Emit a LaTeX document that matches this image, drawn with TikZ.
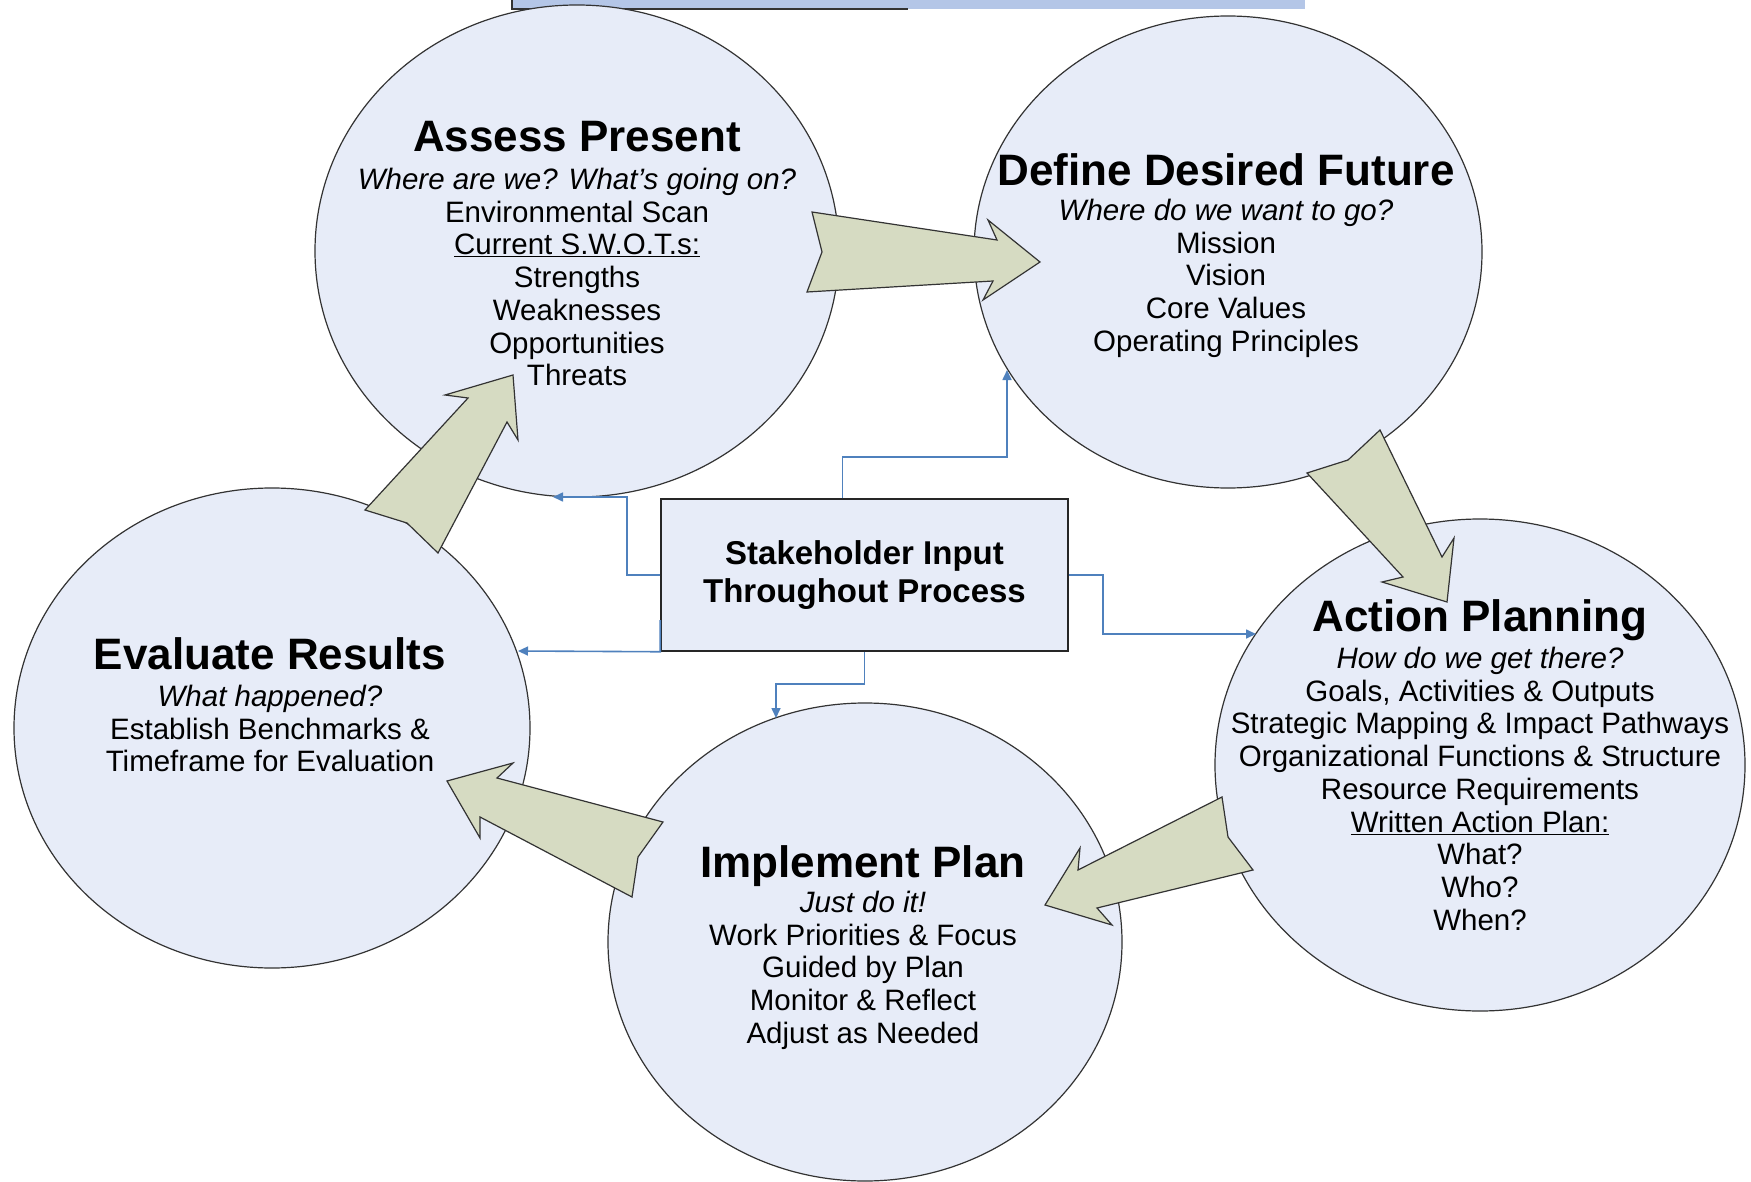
\documentclass[tikz,border=0pt]{standalone}
\usepackage{fontspec}
\setmainfont{Liberation Sans}
\usetikzlibrary{shapes.geometric,arrows.meta,calc}
\definecolor{bubblefill}{RGB}{231,236,248}
\definecolor{arrowfill}{RGB}{214,219,194}
\definecolor{linkblue}{RGB}{79,129,189}
\definecolor{barblue}{RGB}{180,198,231}
\begin{document}
\begin{tikzpicture}[x=1pt,y=-1pt,
  bubble/.style={ellipse, draw=black!80, line width=1.2pt, fill=bubblefill, inner sep=0pt},
  phasetitle/.style={font=\fontsize{44}{48}\selectfont\bfseries, anchor=base, inner sep=0pt},
  phasebody/.style={font=\fontsize{29.5}{32.7}\selectfont, align=center, anchor=north, inner sep=0pt},
  bigarrow/.style={draw=black!80, line width=1.2pt, fill=arrowfill, line join=miter},
  link/.style={draw=linkblue, line width=1.6pt, -{Triangle[length=10pt,width=9pt]}},
]
\useasboundingbox (0,0) rectangle (1751,1182);
\fill[white] (0,0) rectangle (1751,1182);

% strip of a banner along the top edge
\fill[barblue] (512,0) rectangle (1305,9);
\draw[black!80, line width=1.5pt] (512,0) -- (512,9) -- (908,9);

% the five phases
\node[bubble, minimum width=524pt, minimum height=492pt] (assess) at (577,251) {};
\node[bubble, minimum width=508pt, minimum height=472pt] (define) at (1228,252) {};
\node[bubble, minimum width=530pt, minimum height=492pt] (action) at (1480,765) {};
\node[bubble, minimum width=516pt, minimum height=480pt] (evaluate) at (272,728) {};
\node[bubble, minimum width=514pt, minimum height=478pt] (implement) at (865,942) {};

% central stakeholder box
\node[draw=black!85, line width=1.5pt, fill=bubblefill, minimum width=407pt, minimum height=152pt,
      font=\fontsize{33}{38}\selectfont\bfseries, align=center, inner sep=0pt]
      (stake) at (864.5,575) {Stakeholder Input\\Throughout Process};

% entry points of the stakeholder links on the phase borders
\coordinate (assessIn) at (553,497);
\coordinate (defineIn) at (1007,370);
\coordinate (actionIn) at (1256,634);
\coordinate (evaluateIn) at (518,651);
\coordinate (implementIn) at (776,718);

\draw[link] (stake.west) -- ++(-33,0) |- (assessIn);
\draw[link] ($(stake.north)+(-22,0)$) -- ++(0,-41) -| (defineIn);
\draw[link] (stake.east) -- ++(34,0) |- (actionIn);
\draw[link] ($(stake.west)+(0,45)$) -- (stake.south west) -- (evaluateIn);
\draw[link] (stake.south) -- ++(0,32) -| (implementIn);

% block arrows of the cycle
\draw[bigarrow] (812,212) -- (997,240) -- (988,220) -- (1040,262) -- (983,300) -- (993,281) -- (807,292) -- (822,252) -- cycle;
\draw[bigarrow] (1380,430) -- (1442,557) -- (1454,538) -- (1447,602) -- (1382,582) -- (1403,577) -- (1307,473) -- (1348,460) -- cycle;
\draw[bigarrow] (1222,797) -- (1228,837) -- (1253,870) -- (1097,908) -- (1112,925) -- (1045,905) -- (1080,848) -- (1078,870) -- cycle;
\draw[bigarrow] (447,781) -- (513,763) -- (497,778) -- (663,822) -- (638,857) -- (632,897) -- (480,817) -- (480,838) -- cycle;
\draw[bigarrow] (513,375) -- (518,440) -- (507,422) -- (438,553) -- (407,523) -- (365,510) -- (468,398) -- (445,395) -- cycle;

% phase texts
\node[phasetitle] (assess-t) at (577,152) {Assess Present};
\node[phasebody] (assess-b) at (577,168) {\textit{Where are we? What’s going on?}\\Environmental Scan\\\underline{Current S.W.O.T.s:}\\Strengths\\Weaknesses\\Opportunities\\Threats};

\node[phasetitle] (define-t) at (1226,186) {Define Desired Future};
\node[phasebody] (define-b) at (1226,199) {\textit{Where do we want to go?}\\Mission\\Vision\\Core Values\\Operating Principles};

\node[phasetitle] (action-t) at (1480,631) {Action Planning};
\node[phasebody] (action-b) at (1480,647) {\textit{How do we get there?}\\Goals, Activities \& Outputs\\Strategic Mapping \& Impact Pathways\\Organizational Functions \& Structure\\Resource Requirements\\\underline{Written Action Plan:}\\What?\\Who?\\When?};

\node[phasetitle] (evaluate-t) at (270,669) {Evaluate Results};
\node[phasebody] (evaluate-b) at (270,685) {\textit{What happened?}\\Establish Benchmarks \&\\Timeframe for Evaluation};

\node[phasetitle] (implement-t) at (863,877) {Implement Plan};
\node[phasebody] (implement-b) at (863,891) {\textit{Just do it!}\\Work Priorities \& Focus\\Guided by Plan\\Monitor \& Reflect\\Adjust as Needed};
\end{tikzpicture}
\end{document}
